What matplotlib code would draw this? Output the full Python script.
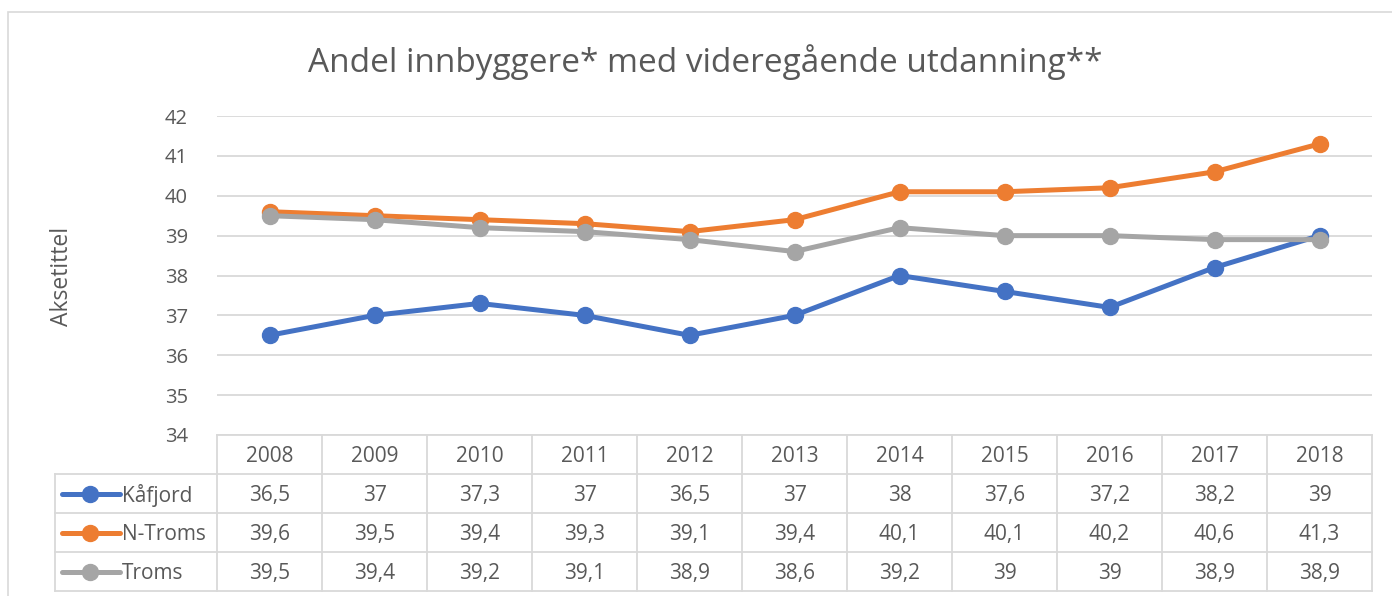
import numpy as np
import matplotlib.pyplot as plt
from matplotlib.lines import Line2D
from matplotlib.patches import Rectangle

plt.rcParams['font.family'] = ['Open Sans', 'DejaVu Sans']

# Data
years = ['2008', '2009', '2010', '2011', '2012', '2013',
         '2014', '2015', '2016', '2017', '2018']
kafjord = [36.5, 37, 37.3, 37, 36.5, 37, 38, 37.6, 37.2, 38.2, 39]
n_troms = [39.6, 39.5, 39.4, 39.3, 39.1, 39.4, 40.1, 40.1, 40.2, 40.6, 41.3]
troms = [39.5, 39.4, 39.2, 39.1, 38.9, 38.6, 39.2, 39, 39, 38.9, 38.9]
series_names = ['Kåfjord', 'N-Troms', 'Troms']
colors = ['#4472C4', '#ED7D31', '#A5A5A5']
y_ticks = [34, 35, 36, 37, 38, 39, 40, 41, 42]

text_color = '#595959'
grid_color = '#D9D9D9'

W, H = 1392, 596
fig = plt.figure(figsize=(W / 100, H / 100), dpi=100)

# outer chart border (cropped on the right and bottom)
fig.patches.append(Rectangle((8 / W, -0.05), 1.0, (H - 12) / H + 0.05,
                             transform=fig.transFigure, fill=False,
                             edgecolor='#D9D9D9', linewidth=1.2))

left, right, top, bottom = 217, 1372, 116, 435
ax = fig.add_axes([left / W, 1 - bottom / H, (right - left) / W, (bottom - top) / H])

x = np.arange(len(years))
all_series = [kafjord, n_troms, troms]
for vals, c, name in zip(all_series, colors, series_names):
    ax.plot(x, vals, '-o', color=c, linewidth=3.6, markersize=11.5,
            label=name, solid_capstyle='round', zorder=3)

ax.set_xlim(-0.5, len(years) - 0.5)
ax.set_ylim(34, 42)
ax.set_yticks(y_ticks)
ax.set_yticklabels([str(v) for v in y_ticks])
ax.set_xticks([])
ax.tick_params(axis='y', length=0, pad=21, labelsize=14.5, labelcolor=text_color)
ax.grid(axis='y', color=grid_color, linewidth=1.3)
ax.set_axisbelow(True)
for s in ax.spines.values():
    s.set_visible(False)

fig.text(62 / W, 1 - 276 / H, 'Aksetittel', rotation=90, ha='center',
         va='center', fontsize=16.5, color=text_color)

fig.text(705 / W, 1 - 62 / H, 'Andel innbyggere* med videregående utdanning**',
         ha='center', va='center', fontsize=24, color=text_color)

# data table below the axes (axes coordinates)
n = len(years)
rh = 39 / (bottom - top)
dy = 2 / (bottom - top)  # small downward nudge for cell text
hdr_left = (55 - left) / (right - left)
lw = 1.3
tr = ax.transAxes


def hline(y, x0, x1):
    ax.add_line(Line2D([x0, x1], [y, y], transform=tr, color=grid_color,
                       linewidth=lw, clip_on=False))


def vline(xx, y0, y1):
    ax.add_line(Line2D([xx, xx], [y0, y1], transform=tr, color=grid_color,
                       linewidth=lw, clip_on=False))


hline(0, 0, 1)
for r in range(1, 5):
    hline(-r * rh, hdr_left, 1)
for i in range(n + 1):
    vline(i / n, 0, -4 * rh)
vline(hdr_left, -rh, -4 * rh)

for i, yr in enumerate(years):
    ax.text((i + 0.5) / n, -0.5 * rh - dy, yr, transform=tr, ha='center',
            va='center', fontsize=15, color=text_color)

for r, (vals, c, name) in enumerate(zip(all_series, colors, series_names)):
    yc = -(r + 1.5) * rh
    for i, v in enumerate(vals):
        lab = ('%g' % v).replace('.', ',')
        ax.text((i + 0.5) / n, yc - dy, lab, transform=tr, ha='center',
                va='center', fontsize=15, color=text_color)
    ax.add_line(Line2D([(62 - left) / (right - left), (120 - left) / (right - left)],
                       [yc, yc], transform=tr, color=c, linewidth=3.6,
                       solid_capstyle='round', clip_on=False))
    ax.add_line(Line2D([(90 - left) / (right - left)], [yc], transform=tr,
                       marker='o', color=c, markersize=11.5, clip_on=False))
    ax.text((122 - left) / (right - left), yc - dy, name, transform=tr, ha='left',
            va='center', fontsize=15, color=text_color)

fig.savefig('out.png', dpi=100)
